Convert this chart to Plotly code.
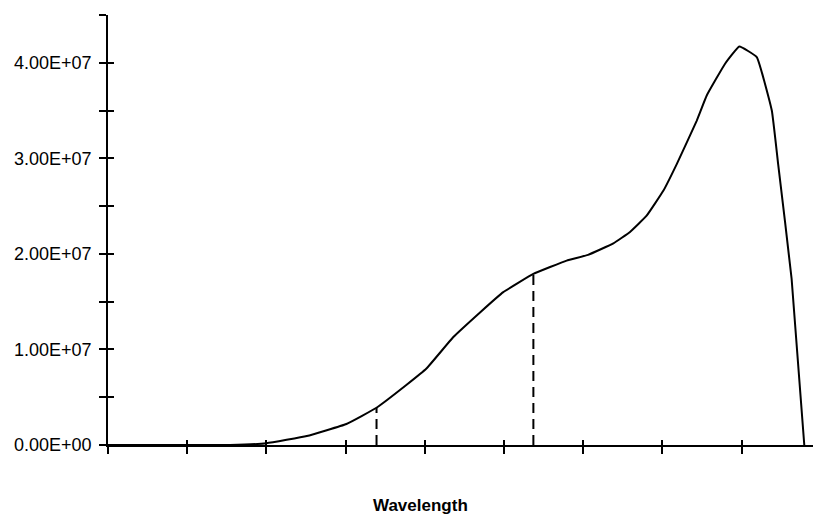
import plotly.graph_objects as go

# Data (x in units of the x-axis tick spacing; no labels on x-axis)
wavelength = [0.0, 1.0, 1.54, 2.0, 2.51, 3.01, 3.39, 3.77, 4.02, 4.36, 4.70, 4.99,
              5.37, 5.79, 6.06, 6.38, 6.59, 6.80, 7.01, 7.18, 7.43, 7.56, 7.79,
              7.97, 8.19, 8.38, 8.46, 8.63, 8.79]
intensity = [0.0, 0.0, 0.0, 0.018e7, 0.094e7, 0.22e7, 0.39e7, 0.63e7, 0.80e7, 1.13e7,
             1.39e7, 1.60e7, 1.79e7, 1.93e7, 1.99e7, 2.11e7, 2.23e7, 2.40e7, 2.66e7,
             2.94e7, 3.39e7, 3.66e7, 3.99e7, 4.17e7, 4.06e7, 3.50e7, 2.94e7, 1.74e7, 0.0]

marker_x = [3.39, 5.37]
marker_y = [0.39e7, 1.79e7]

y_tickvals = [0, 5e6, 1e7, 1.5e7, 2e7, 2.5e7, 3e7, 3.5e7, 4e7, 4.5e7]
y_ticktext = ["0.00E+00", "", "1.00E+07", "", "2.00E+07", "", "3.00E+07", "", "4.00E+07", ""]
x_tickvals = [0, 1, 2, 3, 4, 5, 6, 7, 8]

FONT = "Liberation Sans, Arial, sans-serif"

fig = go.Figure()
fig.add_trace(go.Scatter(x=wavelength, y=intensity, mode="lines",
                         line=dict(color="black", width=2, shape="spline", smoothing=0.3),
                         showlegend=False))
for mx, my in zip(marker_x, marker_y):
    fig.add_trace(go.Scatter(x=[mx, mx], y=[0, my], mode="lines",
                             line=dict(color="black", width=2, dash="10px,6px"),
                             showlegend=False))

# invisible trace on overlay axes so the crossing ticks render
fig.add_trace(go.Scatter(x=[0], y=[0], xaxis="x2", yaxis="y2", mode="markers",
                         marker=dict(opacity=0), showlegend=False, hoverinfo="skip"))

fig.update_layout(
    width=813, height=515,
    margin=dict(l=108, r=0, t=15, b=70),
    paper_bgcolor="white", plot_bgcolor="white",
    font=dict(family=FONT, color="black"),
    xaxis=dict(range=[0, 8.9], tickmode="array", tickvals=x_tickvals,
               showticklabels=False, ticks="outside", ticklen=7, tickwidth=1.5,
               tickcolor="black", showline=True, linecolor="black", linewidth=1.5,
               showgrid=False, zeroline=False),
    yaxis=dict(range=[0, 4.5e7], tickmode="array", tickvals=y_tickvals,
               ticktext=y_ticktext, ticks="outside", ticklen=7, tickwidth=1.5,
               tickcolor="black", showline=True, linecolor="black", linewidth=1.5,
               showgrid=False, zeroline=False, tickfont=dict(size=18, family=FONT),
               ticklabelstandoff=4),
    xaxis2=dict(overlaying="x", matches="x", range=[0, 8.9], tickmode="array",
                tickvals=x_tickvals, showticklabels=False, ticks="inside",
                ticklen=5, tickwidth=1.5, tickcolor="black", showline=False,
                showgrid=False, zeroline=False),
    yaxis2=dict(overlaying="y", matches="y", range=[0, 4.5e7], tickmode="array",
                tickvals=y_tickvals, showticklabels=False, ticks="inside",
                ticklen=6, tickwidth=1.5, tickcolor="black", showline=False,
                showgrid=False, zeroline=False, side="left"),
    annotations=[dict(text="<b>Wavelength</b>", xref="paper", yref="paper",
                      x=(420 - 108) / 705, y=(445 - 505) / 430,
                      xanchor="center", yanchor="middle", showarrow=False,
                      font=dict(size=17, family=FONT, color="black"))],
)

fig.write_html("out.html")
